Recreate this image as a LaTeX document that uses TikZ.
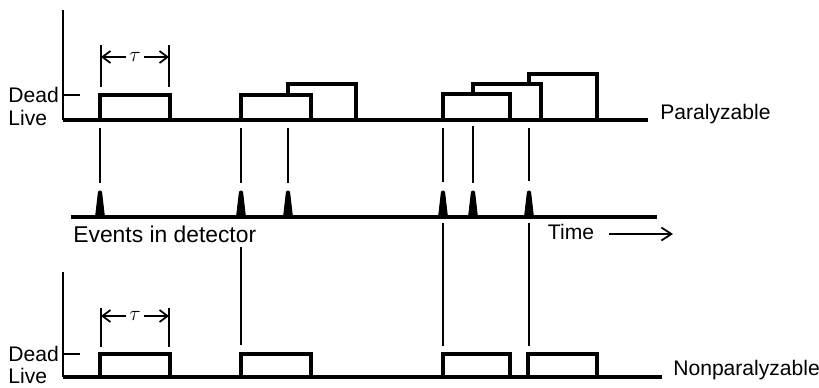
\documentclass[tikz,border=0pt]{standalone}
\usepackage{fontspec}
\setmainfont{Liberation Sans}
\usepackage{amsmath}
\usetikzlibrary{arrows.meta,calc}

\begin{document}
\begin{tikzpicture}[
  x=0.02cm, y=-0.02cm,
  ax/.style={line width=1.3pt},
  base/.style={line width=1.9pt},
  pulse/.style={line width=1.9pt, line join=miter},
  ev/.style={line width=0.75pt},
  dim/.style={line width=1pt, -{Straight Barb[length=1.6mm,width=2.4mm]}},
  lb/.style={font=\fontsize{12}{14}\selectfont, inner sep=0pt},
  spike/.pic={\filldraw[line width=0.5pt, rounded corners=0.6pt] (-4.5,0) -- (-1.5,-26) -- (1.5,-26) -- (4.5,0) -- cycle;},
]
\useasboundingbox (0,0) rectangle (819,387);
% event times
\coordinate (e1) at (100,217);
\coordinate (e2) at (241,217);
\coordinate (e3) at (288,217);
\coordinate (e4) at (443,217);
\coordinate (e5) at (473,217);
\coordinate (e6) at (529,217);

% paralyzable
\draw[ax] (63,10) -- (63,120);
\draw[ax] (63,95) -- (80,95);
\draw[base] (63,120) -- (648,120);
\node[lb, anchor=west] (dead1) at (8,95) {Dead};
\node[lb, anchor=west] (live1) at (8,118) {Live};
\node[lb, anchor=west] (para) at (660,114) {Paralyzable};
\draw[pulse] (100,120) |- (170,95) -- (170,120);
\draw[pulse] (241,120) |- (311,95) -- (311,120);
\draw[pulse] (288,95) |- (356,84) -- (356,120);
\draw[pulse] (443,120) |- (510,94) -- (510,120);
\draw[pulse] (473,94) |- (541,84) -- (541,120);
\draw[pulse] (529,84) |- (597,74) -- (597,120);
\coordinate (ta1) at (101,57); \coordinate (tb1) at (169,57);
\draw[ev] (101,45) -- (101,87); \draw[ev] (169,45) -- (169,87);
\node[lb, inner sep=1.5pt] (tau1) at (135,57) {$\tau$};
\draw[dim] (tau1) -- (ta1); \draw[dim] (tau1) -- (tb1);

% events
\draw[base] (71,217) -- (657,217);
\pic at (e1) {spike}; \pic at (e2) {spike}; \pic at (e3) {spike};
\pic at (e4) {spike}; \pic at (e5) {spike}; \pic at (e6) {spike};
\draw[ev] ($(e1)+(0,-89)$) -- ($(e1)+(0,-34)$);
\draw[ev] ($(e2)+(0,-89)$) -- ($(e2)+(0,-34)$);
\draw[ev] ($(e3)+(0,-89)$) -- ($(e3)+(0,-34)$);
\draw[ev] ($(e4)+(0,-89)$) -- ($(e4)+(0,-35)$);
\draw[ev] ($(e5)+(0,-91)$) -- ($(e5)+(0,-34)$);
\draw[ev] ($(e6)+(0,-89)$) -- ($(e6)+(0,-36)$);
\node[lb, anchor=west, font=\fontsize{13}{15}\selectfont] (evlab) at (73,234) {Events in detector};
\node[lb] (time) at (571,232) {Time};
\coordinate (tA) at (609,234); \coordinate (tB) at (673,234);
\draw[line width=1pt, -{Straight Barb[length=2mm,width=2.6mm]}] (tA) -- (tB);
\draw[ev] ($(e2)+(0,30)$) -- ($(e2)+(0,128)$);
\draw[ev] ($(e4)+(0,6)$) -- ($(e4)+(0,129)$);
\draw[ev] ($(e6)+(0,6)$) -- ($(e6)+(0,129)$);

% nonparalyzable
\draw[ax] (63,272) -- (63,377);
\draw[ax] (63,354) -- (80,354);
\draw[base] (63,377) -- (662,377);
\node[lb, anchor=west] (dead2) at (8,354) {Dead};
\node[lb, anchor=west] (live2) at (8,376) {Live};
\node[lb, anchor=west] (nonpara) at (673,370) {Nonparalyzable};
\draw[pulse] (100,377) |- (170,354) -- (170,377);
\draw[pulse] (241,377) |- (311,354) -- (311,377);
\draw[pulse] (443,377) |- (510,354) -- (510,377);
\draw[pulse] (528,377) |- (597,354) -- (597,377);
\coordinate (ta2) at (101,316); \coordinate (tb2) at (169,316);
\draw[ev] (101,308) -- (101,347); \draw[ev] (169,308) -- (169,347);
\node[lb, inner sep=1.5pt] (tau2) at (135,316) {$\tau$};
\draw[dim] (tau2) -- (ta2); \draw[dim] (tau2) -- (tb2);
\end{tikzpicture}
\end{document}
